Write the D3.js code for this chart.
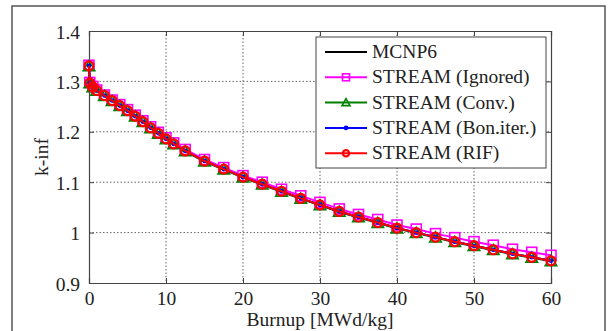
<!DOCTYPE html>
<html>
<head>
<meta charset="utf-8">
<script src="https://cdn.jsdelivr.net/npm/d3@7"></script>
<style>
  body { margin: 0; background: #fff; }
  text { font-family: "Liberation Serif", "DejaVu Serif", serif; fill: #222; }
</style>
</head>
<body>
<script>
// burnup steps [MWd/kg]
const burnup = [0, 0.1, 0.5, 1, 2, 3, 4, 5, 6, 7, 8, 9, 10, 11, 12.5, 15, 17.5, 20, 22.5, 25,
  27.5, 30, 32.5, 35, 37.5, 40, 42.5, 45, 47.5, 50, 52.5, 55, 57.5, 60];

const mcnp6 = [1.331, 1.297, 1.289, 1.282, 1.272, 1.262, 1.252, 1.242, 1.231, 1.220, 1.208, 1.197,
  1.186, 1.176, 1.162, 1.142, 1.126, 1.110, 1.096, 1.082, 1.068, 1.055, 1.042, 1.031, 1.020,
  1.009, 1.000, 0.991, 0.982, 0.974, 0.966, 0.958, 0.951, 0.944];
const ignored = [1.332, 1.298, 1.290, 1.283, 1.273, 1.263, 1.254, 1.244, 1.233, 1.222, 1.210, 1.199,
  1.188, 1.178, 1.165, 1.145, 1.129, 1.113, 1.100, 1.086, 1.073, 1.060, 1.047, 1.036, 1.026,
  1.015, 1.007, 0.998, 0.990, 0.982, 0.975, 0.967, 0.961, 0.955];
const conv = [1.330, 1.296, 1.288, 1.281, 1.271, 1.261, 1.251, 1.241, 1.230, 1.219, 1.207, 1.196,
  1.185, 1.175, 1.161, 1.141, 1.125, 1.109, 1.095, 1.081, 1.067, 1.054, 1.041, 1.030, 1.019,
  1.008, 0.999, 0.990, 0.981, 0.973, 0.965, 0.957, 0.950, 0.943];
const boniter = [1.331, 1.297, 1.289, 1.282, 1.272, 1.262, 1.252, 1.242, 1.231, 1.220, 1.208, 1.197,
  1.186, 1.176, 1.162, 1.142, 1.126, 1.110, 1.096, 1.082, 1.068, 1.055, 1.042, 1.031, 1.020,
  1.009, 1.000, 0.991, 0.982, 0.974, 0.966, 0.958, 0.951, 0.944];
const rif = [1.331, 1.297, 1.289, 1.282, 1.272, 1.262, 1.252, 1.242, 1.231, 1.220, 1.208, 1.197,
  1.186, 1.176, 1.162, 1.142, 1.126, 1.110, 1.096, 1.082, 1.068, 1.055, 1.042, 1.031, 1.020,
  1.009, 1.000, 0.991, 0.982, 0.974, 0.966, 0.958, 0.951, 0.944];

const seriesNames = ['MCNP6', 'STREAM (Ignored)', 'STREAM (Conv.)', 'STREAM (Bon.iter.)', 'STREAM (RIF)'];
const xTicks = [0, 10, 20, 30, 40, 50, 60];
const yTicks = [0.9, 1, 1.1, 1.2, 1.3, 1.4];

const series = [
  { name: seriesNames[0], values: mcnp6, color: '#000000', marker: 'none' },
  { name: seriesNames[1], values: ignored, color: '#ff00ff', marker: 'square' },
  { name: seriesNames[2], values: conv, color: '#008000', marker: 'triangle' },
  { name: seriesNames[3], values: boniter, color: '#0000ff', marker: 'dot' },
  { name: seriesNames[4], values: rif, color: '#ff0000', marker: 'circle' }
];

const W = 614, H = 331;
const m = { left: 89, right: 551, top: 31, bottom: 283 };
const FS = 19.5;

const svg = d3.select('body').append('svg').attr('width', W).attr('height', H);

// outer figure frame
svg.append('rect')
  .attr('x', 12).attr('y', 6).attr('width', 593).attr('height', 340)
  .attr('fill', 'none').attr('stroke', '#555').attr('stroke-width', 1.5);

const x = d3.scaleLinear().domain([0, 60]).range([m.left, m.right]);
const y = d3.scaleLinear().domain([0.9, 1.4]).range([m.bottom, m.top]);

// grid
const grid = svg.append('g');
grid.selectAll('.gx').data(xTicks.slice(1, -1)).join('line')
  .attr('x1', d => x(d)).attr('x2', d => x(d)).attr('y1', m.top).attr('y2', m.bottom)
  .attr('stroke', '#666').attr('stroke-width', 1).attr('stroke-dasharray', '1.5,2');
grid.selectAll('.gy').data(yTicks.slice(1, -1)).join('line')
  .attr('y1', d => y(d)).attr('y2', d => y(d)).attr('x1', m.left).attr('x2', m.right)
  .attr('stroke', '#666').attr('stroke-width', 1).attr('stroke-dasharray', '1.5,2');

// axes
const fmt = d => d3.format('')(d);
const bottomAxis = svg.append('g').attr('transform', `translate(0,${m.bottom})`)
  .call(d3.axisBottom(x).tickValues(xTicks).tickSize(-5).tickPadding(8).tickFormat(fmt));
const leftAxis = svg.append('g').attr('transform', `translate(${m.left},0)`)
  .call(d3.axisLeft(y).tickValues(yTicks).tickSize(-5).tickPadding(9).tickFormat(fmt));
const topAxis = svg.append('g').attr('transform', `translate(0,${m.top})`)
  .call(d3.axisTop(x).tickValues(xTicks).tickSize(-5).tickFormat(''));
const rightAxis = svg.append('g').attr('transform', `translate(${m.right},0)`)
  .call(d3.axisRight(y).tickValues(yTicks).tickSize(-5).tickFormat(''));

[bottomAxis, leftAxis, topAxis, rightAxis].forEach(a => {
  a.select('.domain').attr('stroke', '#444').attr('stroke-width', 1.2);
  a.selectAll('.tick line').attr('stroke', '#444');
  a.selectAll('text').attr('font-size', FS).attr('fill', '#222');
});
leftAxis.selectAll('text').attr('dy', '0.36em');

// lines and markers
function drawMarker(g, type, color, size) {
  if (type === 'square') {
    g.append('rect').attr('x', -size).attr('y', -size).attr('width', 2 * size).attr('height', 2 * size)
      .attr('fill', 'none').attr('stroke', color).attr('stroke-width', 1.6);
  } else if (type === 'triangle') {
    const s = size * 1.15;
    g.append('path').attr('d', `M0,${-s} L${s},${s * 0.75} L${-s},${s * 0.75} Z`)
      .attr('fill', 'none').attr('stroke', color).attr('stroke-width', 1.6);
  } else if (type === 'dot') {
    g.append('circle').attr('r', 2.3).attr('fill', color);
  } else if (type === 'circle') {
    g.append('circle').attr('r', size * 0.9).attr('fill', 'none').attr('stroke', color).attr('stroke-width', 2.2);
  }
}

const line = d3.line().x(d => x(d[0])).y(d => y(d[1]));
const plot = svg.append('g');
series.forEach(s => {
  const pts = burnup.map((b, i) => [b, s.values[i]]);
  plot.append('path').datum(pts).attr('d', line)
    .attr('fill', 'none').attr('stroke', s.color).attr('stroke-width', 2);
  if (s.marker !== 'none') {
    pts.forEach(p => {
      const g = plot.append('g').attr('transform', `translate(${x(p[0])},${y(p[1])})`);
      drawMarker(g, s.marker, s.color, 5);
    });
  }
});

// axis titles
svg.append('text').attr('x', (m.left + m.right) / 2).attr('y', 326)
  .attr('text-anchor', 'middle').attr('font-size', FS).text('Burnup [MWd/kg]');
svg.append('text').attr('transform', `translate(48,${(m.top + m.bottom) / 2}) rotate(-90)`)
  .attr('text-anchor', 'middle').attr('font-size', FS).text('k-inf');

// legend
const lg = svg.append('g');
lg.append('rect').attr('x', 316).attr('y', 37).attr('width', 230).attr('height', 131)
  .attr('fill', '#fff').attr('stroke', '#444').attr('stroke-width', 1);
series.forEach((s, i) => {
  const ly = 52 + i * 25.3;
  lg.append('line').attr('x1', 325).attr('x2', 367).attr('y1', ly).attr('y2', ly)
    .attr('stroke', s.color).attr('stroke-width', 2);
  const g = lg.append('g').attr('transform', `translate(346,${ly})`);
  drawMarker(g, s.marker, s.color, 3.5);
  lg.append('text').attr('x', 372).attr('y', ly + 6).attr('font-size', FS).text(s.name);
});
</script>
</body>
</html>
